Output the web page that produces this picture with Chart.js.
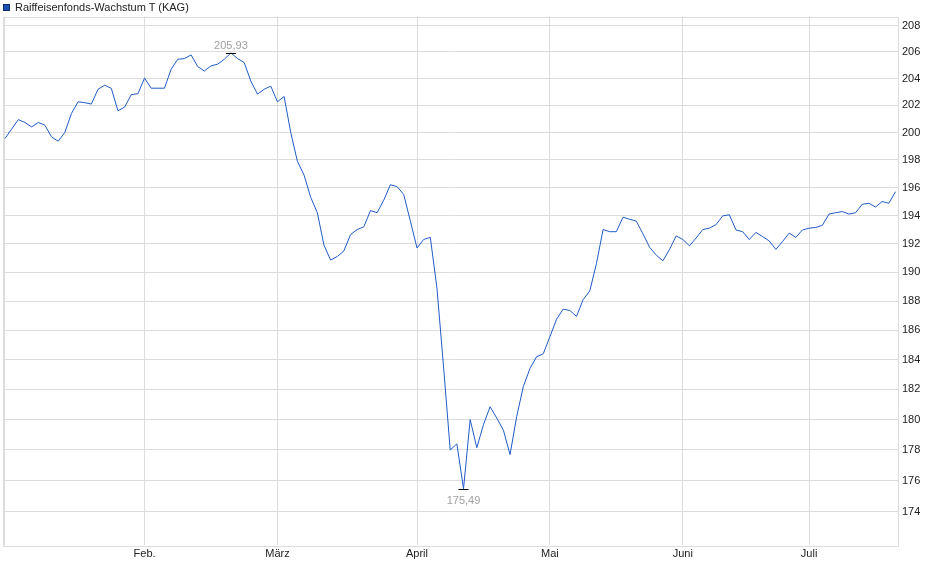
<!DOCTYPE html>
<html>
<head>
<meta charset="utf-8">
<script src="https://cdn.jsdelivr.net/npm/chart.js@4/dist/chart.umd.min.js"></script>
<style>
  body { margin: 0; background: #fff; }
  #wrap { position: relative; width: 940px; height: 579px; }
  #legend { position: absolute; left: 3px; top: 1px; font: 11px "Liberation Sans", Arial, sans-serif; color: #222; line-height: 12px; }
  #legend span { display: inline-block; width: 5px; height: 5px; background: #1c4fb4; border: 1px solid #0d2c6e; margin-right: 5px; vertical-align: 0px; }
</style>
</head>
<body>
<div id="wrap">
  <div id="legend"><span></span>Raiffeisenfonds-Wachstum T (KAG)</div>
  <canvas id="grafico"></canvas>
</div>
<script>
// Kurswerte je Handelstag (2.1. bis Mitte Juli)
const kurse = [
  199.56, 200.25, 200.95, 200.74, 200.41, 200.74, 200.54, 199.68, 199.36, 200.00,
  201.40, 202.27, 202.20, 202.10, 203.20, 203.50, 203.27, 201.60, 201.87, 202.80,
  202.87, 204.03, 203.28, 203.28, 203.28, 204.70, 205.45, 205.50, 205.78, 204.90,
  204.57, 204.95, 205.08, 205.45, 205.93, 205.50, 205.20, 203.80, 202.84, 203.20,
  203.43, 202.27, 202.66, 200.00, 197.90, 196.90, 195.30, 194.20, 191.90, 190.85,
  191.10, 191.50, 192.65, 193.00, 193.20, 194.35, 194.20, 195.10, 196.20, 196.07,
  195.50, 193.60, 191.70, 192.30, 192.45, 188.90, 183.50, 178.00, 178.40, 175.49,
  180.00, 178.15, 179.66, 180.85, 180.10, 179.30, 177.70, 180.20, 182.20, 183.40,
  184.20, 184.40, 185.56, 186.75, 187.45, 187.35, 186.95, 188.10, 188.70, 190.60,
  193.00, 192.85, 192.85, 193.88, 193.73, 193.60, 192.70, 191.75, 191.20, 190.80,
  191.60, 192.55, 192.30, 191.85, 192.40, 193.00, 193.10, 193.35, 193.97, 194.05,
  192.97, 192.85, 192.30, 192.80, 192.50, 192.20, 191.60, 192.15, 192.75, 192.45,
  192.97, 193.10, 193.15, 193.30, 194.10, 194.20, 194.28, 194.10, 194.20, 194.80,
  194.87, 194.60, 195.00, 194.87, 195.70
];

// erster Handelstag jedes Monats (Index in kurse)
const monate = ['Feb.', 'März', 'April', 'Mai', 'Juni', 'Juli'];
const monatIndex = [21, 41, 62, 82, 102, 121];

const yTicks = [174, 176, 178, 180, 182, 184, 186, 188, 190, 192, 194, 196, 198, 200, 202, 204, 206, 208];

const gitter = '#dcdcdc';
Chart.defaults.font.family = '"Liberation Sans", Arial, sans-serif';
Chart.defaults.font.size = 11;
Chart.defaults.color = '#222';

// Rahmen um die Zeichenfläche
const rahmen = {
  id: 'rahmen',
  beforeDatasetsDraw(chart) {
    const a = chart.chartArea;
    const c = chart.ctx;
    c.save();
    c.strokeStyle = gitter;
    c.lineWidth = 1;
    c.strokeRect(Math.round(a.left) + 0.5, Math.round(a.top) + 0.5,
      Math.round(a.right - a.left), Math.round(a.bottom - a.top));
    c.restore();
  }
};

// Hoch- und Tiefpunkt markieren
const extremwerte = {
  id: 'extremwerte',
  afterDatasetsDraw(chart) {
    const c = chart.ctx;
    const xs = chart.scales.x, ys = chart.scales.y;
    const max = Math.max(...kurse), min = Math.min(...kurse);
    const marken = [
      { i: kurse.indexOf(max), v: max, dy: -8 },
      { i: kurse.indexOf(min), v: min, dy: 11 }
    ];
    c.save();
    marken.forEach(m => {
      const px = xs.getPixelForValue(m.i);
      const py = Math.round(ys.getPixelForValue(m.v)) + 0.5;
      c.strokeStyle = '#000';
      c.lineWidth = 1;
      c.beginPath();
      c.moveTo(px - 5, py);
      c.lineTo(px + 5, py);
      c.stroke();
      c.fillStyle = '#a0a0a0';
      c.font = '11px "Liberation Sans", Arial, sans-serif';
      c.textAlign = 'center';
      c.textBaseline = 'middle';
      c.fillText(m.v.toFixed(2).replace('.', ','), px, py + m.dy);
    });
    c.restore();
  }
};

new Chart(document.getElementById('grafico'), {
  type: 'line',
  data: {
    datasets: [{
      data: kurse.map((v, i) => ({ x: i, y: v })),
      borderColor: '#1f5bc6',
      borderWidth: 1,
      pointRadius: 0,
      tension: 0,
      fill: false
    }]
  },
  options: {
    responsive: true,
    maintainAspectRatio: false,
    animation: false,
    layout: { padding: { top: 16.5, left: 3, right: 0, bottom: 0 } },
    plugins: { legend: { display: false }, tooltip: { enabled: false } },
    scales: {
      x: {
        type: 'linear',
        min: -0.3,
        max: 134.38,
        afterBuildTicks: s => { s.ticks = [0, ...monatIndex].map(v => ({ value: v })); },
        afterFit: s => { s.height = 34; },
        ticks: {
          autoSkip: false,
          maxRotation: 0,
          padding: 2,
          color: '#222',
          callback: v => { const k = monatIndex.indexOf(v); return k >= 0 ? monate[k] : ''; }
        },
        grid: { color: gitter, drawTicks: false },
        border: { display: false }
      },
      y: {
        type: 'logarithmic',
        position: 'right',
        min: 171.9,
        max: 208.7,
        afterBuildTicks: s => { s.ticks = yTicks.map(v => ({ value: v })); },
        afterFit: s => { s.width = 42; },
        ticks: {
          autoSkip: false,
          padding: 4,
          color: '#222',
          callback: v => String(v)
        },
        grid: { color: gitter, drawTicks: false },
        border: { display: false }
      }
    }
  },
  plugins: [rahmen, extremwerte]
});
</script>
</body>
</html>
